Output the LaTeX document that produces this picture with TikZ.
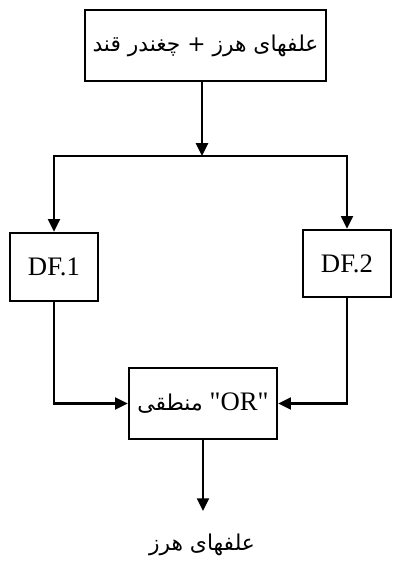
\documentclass[tikz,border=0pt]{standalone}
\usepackage{fontspec}
\setmainfont{Liberation Serif}
\newfontfamily\arabicfont[Script=Arabic]{DejaVu Sans}
\TeXXeTstate=1
\usetikzlibrary{calc, positioning, arrows.meta}

\tikzset{
    box/.style={draw, line width=1.6pt, fill=white, inner sep=0pt},
    arr/.style={line width=1.6pt, -{Triangle[length=3.2mm, width=3mm]}},
    fa/.style={font=\arabicfont\fontsize{15.5}{18}\selectfont},
    la/.style={font=\fontsize{19}{22}\selectfont}
}

\begin{document}
\begin{tikzpicture}
    \useasboundingbox (0,0) rectangle (9.8,14.075);

    % Ingång (övre ruta)
    \node[box, fa, minimum width=6.025cm, minimum height=1.775cm] (mix) at (5.1375,12.9375)
        {\beginR علفهای هرز + چغندر قند\endR};
    \coordinate (split) at (5.05,10.175);

    % De två filtren
    \node[box, la, minimum width=2.2cm, minimum height=1.7cm] (dfa) at (1.35,7.4) {DF.1};
    \node[box, la, minimum width=2.2cm, minimum height=1.675cm] (dfb) at (8.675,7.4875) {DF.2};

    % OR-ruta
    \node[box, fa, minimum width=3.7cm, minimum height=1.775cm] (orbox) at (5.075,3.9875)
        {\beginR\beginL{\rmfamily\fontsize{19}{22}\selectfont\textquotedbl OR\textquotedbl}\endL{} منطقی\endR};

    % Utgång
    \node[fa] (out) at (5.05,0.45) {\beginR علفهای هرز\endR};

    % Pilar
    \draw[arr] (mix.south -| split) -- (split);
    \draw[arr] (split) -| (dfa.north);
    \draw[arr] (split) -| (dfb.north);
    \draw[arr] (dfa.south) |- (orbox.west);
    \draw[arr] (dfb.south) |- (orbox.east);
    \draw[arr] (orbox.south) -- ++(0,-1.775);
\end{tikzpicture}
\end{document}
